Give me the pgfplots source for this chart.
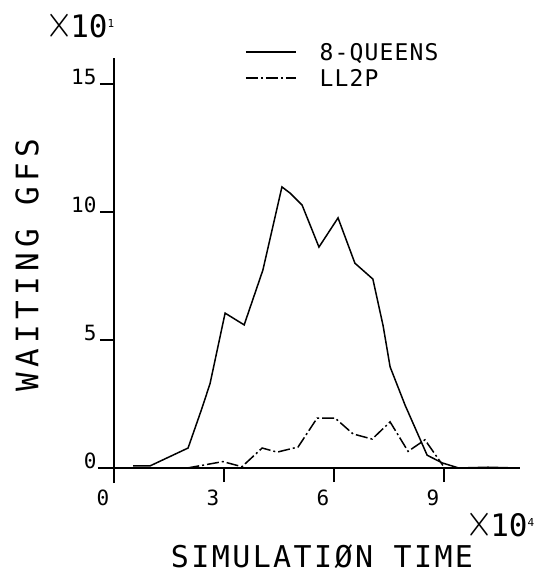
\documentclass[border=0pt]{standalone}
\usepackage{fontspec}
\usepackage{pgfplots}
\pgfplotsset{compat=1.18}
\newfontfamily\mono{DejaVu Sans Mono}
\newfontfamily\monoX[LetterSpace=8]{DejaVu Sans Mono}
\newfontfamily\monoY[LetterSpace=17]{DejaVu Sans Mono}
\newfontfamily\monoL[LetterSpace=5]{DejaVu Sans Mono}
\newcommand\ticfont{\mono\fontsize{21}{21}\selectfont}
\newcommand\legfont{\monoL\fontsize{23}{23}\selectfont}
\newcommand\timesten{\mono\fontsize{31}{31}\selectfont\kern-3pt\raisebox{0pt}{\scalebox{1.45}[1.9]{$\times$}}\kern-3pt 10}

\begin{document}
\begin{tikzpicture}
\begin{axis}[
  x=36.667pt, y=25.6pt,
  anchor=origin, at={(0pt,0pt)},
  axis lines=middle,
  axis line style={-, line width=1.4pt},
  xmin=-0.44, xmax=11.07, ymin=-0.59, ymax=16,
  xtick={0,3,6,9}, xticklabels={0,3,6,9},
  ytick={0,5,10,15}, yticklabels={0,5,10,15},
  hide obscured x ticks=false, hide obscured y ticks=false,
  tick align=outside, major tick length=14pt,
  tick style={line width=1.4pt, black},
  ticklabel style={font=\ticfont},
  xticklabel style={anchor=north, xshift=-11pt, yshift=-4pt},
  yticklabel style={anchor=east, yshift=7pt},
  legend style={draw=none, fill=none, at={(axis cs:3.57,16.76)}, anchor=north west,
    inner sep=0pt, font=\legfont,
    nodes={inner sep=0pt, text height=21pt, text depth=5pt}},
  legend cell align=left,
  legend image code/.code={\draw[#1] (0pt,0pt) -- (50pt,0pt); \path (73pt,0pt);},
]
\addplot[black, line width=1.5pt] coordinates {
  (0.52,0.08) (0.98,0.08) (1.53,0.45) (2.02,0.78) (2.40,2.34) (2.62,3.30)
  (3.03,6.05) (3.55,5.59) (4.06,7.73) (4.58,10.98) (4.80,10.74) (5.13,10.27)
  (5.59,8.63) (6.11,9.77) (6.57,8.00) (7.06,7.38) (7.34,5.55) (7.53,3.95)
  (7.94,2.45) (8.54,0.50) (8.95,0.20) (9.40,0.00) (10.20,0.03) (11.00,0.00)
};
\addlegendentry{8-QUEENS}
\addplot[black, line width=1.5pt, dash pattern=on 12pt off 3pt on 2pt off 3pt] coordinates {
  (2.00,0.00) (2.97,0.25) (3.49,0.05) (4.04,0.78) (4.45,0.62) (5.02,0.82)
  (5.54,1.95) (6.03,1.95) (6.52,1.33) (7.04,1.13) (7.53,1.80) (8.02,0.65)
  (8.48,1.10) (8.97,0.10)
};
\addlegendentry{LL2P}
\end{axis}
\node[rotate=90] at (-87pt,203pt) {\monoY\fontsize{31}{31}\selectfont WAITING GFS};
\node at (208pt,-89pt) {\monoX\fontsize{30}{30}\selectfont SIMULATIØN TIME};
\node[anchor=west, inner sep=0pt] at (-66pt,442pt)
  {\timesten\raisebox{10pt}{\fontsize{11}{11}\selectfont 1}};
\node[anchor=west, inner sep=0pt] at (354pt,-57pt)
  {\timesten\raisebox{10pt}{\fontsize{11}{11}\selectfont 4}};
\pgfresetboundingbox
\useasboundingbox (-114pt,-110pt) rectangle (444pt,468pt);
\end{tikzpicture}
\end{document}
